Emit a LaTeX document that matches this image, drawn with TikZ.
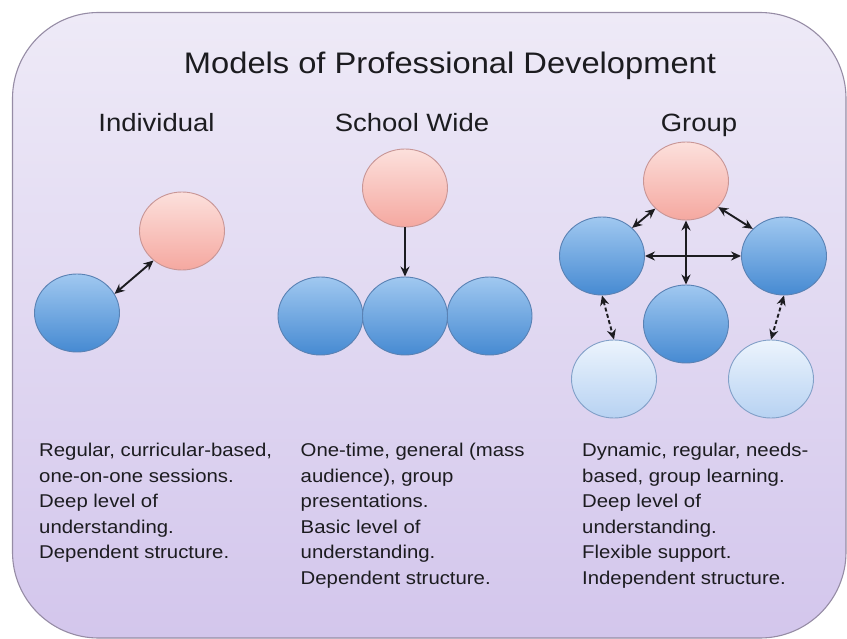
\documentclass[tikz,border=0pt]{standalone}
\usepackage{fontspec}
\setmainfont{Liberation Sans}[FakeStretch=1.1]
\usetikzlibrary{shapes.geometric,arrows.meta}

\definecolor{bgtop}{RGB}{238,234,247}
\definecolor{bgbot}{RGB}{211,198,236}
\definecolor{bgline}{RGB}{150,140,165}
\definecolor{pinktop}{RGB}{252,224,220}
\definecolor{pinkbot}{RGB}{245,168,160}
\definecolor{pinkline}{RGB}{200,150,150}
\definecolor{bluetop}{RGB}{160,200,240}
\definecolor{bluebot}{RGB}{70,138,210}
\definecolor{blueline}{RGB}{90,130,180}
\definecolor{lighttop}{RGB}{236,244,253}
\definecolor{lightbot}{RGB}{183,210,242}
\definecolor{lightline}{RGB}{130,160,200}
\definecolor{ink}{RGB}{28,28,32}

\tikzset{
  bubble/.style={ellipse, minimum width=85pt, minimum height=78pt, inner sep=0pt, line width=0.9pt},
  leader/.style={bubble, draw=pinkline, top color=pinktop, bottom color=pinkbot},
  member/.style={bubble, draw=blueline, top color=bluetop, bottom color=bluebot},
  outer/.style={bubble, draw=lightline, top color=lighttop, bottom color=lightbot},
  link/.style={draw=ink, line width=1.9pt, {Stealth[length=10pt,width=9pt]}-{Stealth[length=10pt,width=9pt]}},
  onelink/.style={draw=ink, line width=1.9pt, -{Stealth[length=10pt,width=9pt]}},
  looselink/.style={link, dash pattern=on 4pt off 2.5pt},
  heading/.style={anchor=base, text=ink, inner sep=0pt, font=\fontsize{25}{30}\selectfont},
  notes/.style={anchor=base west, align=left, text=ink, inner sep=0pt, font=\fontsize{18.5}{25.6}\selectfont},
}

\begin{document}
\begin{tikzpicture}[x=1pt, y=-1pt]
\useasboundingbox (0,0) rectangle (847,639);

% slide panel
\draw[bgline, line width=1.1pt, rounded corners=86pt, top color=bgtop, bottom color=bgbot]
  (12.5,12.5) rectangle (846,638);

% titles
\node[anchor=base, text=ink, inner sep=0pt, font=\fontsize{29.7}{36}\selectfont] (title) at (450,74) {Models of Professional Development};
\node[heading] (hind) at (156.5,132) {Individual};
\node[heading] (hsch) at (412,132) {School Wide};
\node[heading] (hgrp) at (699,132) {Group};

% individual model
\node[leader] (ip) at (182,231) {};
\node[member] (ib) at (77,313) {};
\draw[link] (ib.27) -- (ip.226);

% school wide model
\node[leader] (sp) at (405,188) {};
\node[member] (sl) at (320.5,316) {};
\node[member] (sr) at (489.5,316) {};
\node[member] (sm) at (405,316) {};
\draw[onelink] (sp.south) -- (sm.north);

% group model
\node[leader] (gp) at (686,181) {};
\node[member] (gl) at (602,256) {};
\node[member] (gr) at (784,256) {};
\node[member] (gm) at (686,324) {};
\node[outer] (gol) at (614,379) {};
\node[outer] (gor) at (771,379) {};
\draw[link] (gl.43) -- (gp.222);
\draw[link] (gp.321) -- (gr.139);
\draw[link] (gl.east) -- (gr.west);
\draw[link] (gp.south) -- (gm.north);
\draw[looselink] (gl.south) -- (gol.north);
\draw[looselink] (gr.south) -- (gor.north);

% descriptions (anchored at the baseline of the last line)
\node[notes] (tind) at (39,558.9) {Regular, curricular-based,\\one-on-one sessions.\\Deep level of\\understanding.\\Dependent structure.};
\node[notes] (tsch) at (300.5,584.5) {One-time, general (mass\\audience), group\\presentations.\\Basic level of\\understanding.\\Dependent structure.};
\node[notes] (tgrp) at (582,584.5) {Dynamic, regular, needs-\\based, group learning.\\Deep level of\\understanding.\\Flexible support.\\Independent structure.};
\end{tikzpicture}
\end{document}
